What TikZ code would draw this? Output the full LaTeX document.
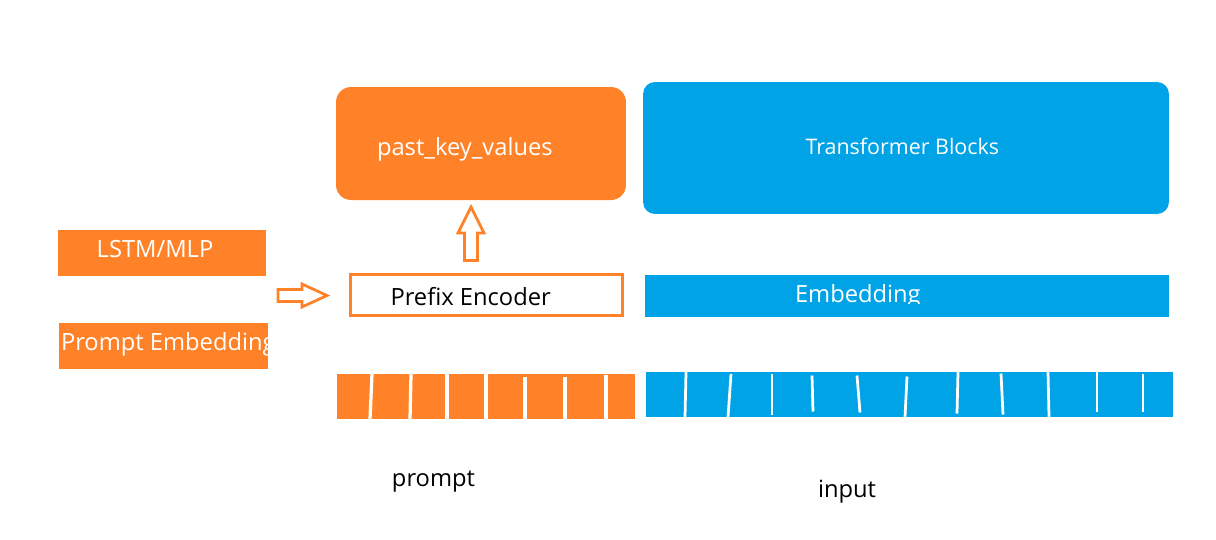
\documentclass[tikz,border=0pt]{standalone}
\usepackage{fontspec}
\setmainfont{Open Sans}
\definecolor{porange}{HTML}{FF8228}
\definecolor{pblue}{HTML}{00A3E6}
\tikzset{
  obox/.style={fill=porange},
  bbox/.style={fill=pblue},
  wtxt/.style={text=white, anchor=base west},
  ktxt/.style={text=black, anchor=base},
  hollow/.style={draw=porange, line width=0.055cm, fill=white},
  gap/.style={draw=white, line width=0.065cm}
}
\begin{document}
\begin{tikzpicture}[x=0.02cm, y=-0.02cm,
    every node/.style={inner sep=0, outer sep=0, font=\fontsize{13.5}{16}\selectfont}]
  \useasboundingbox (0,0) rectangle (1216,539);
  % left column
  \node[obox, minimum width=4.16cm, minimum height=0.92cm] (lstm) at (162,253) {};
  \node[wtxt, anchor=base] (lstmtxt) at (155,257.7) {LSTM/MLP};
  \node[obox, minimum width=4.18cm, minimum height=0.92cm] (pemb) at (163.5,346) {};
  \begin{scope}
    \clip (pemb.north west) rectangle (pemb.south east);
    \node[wtxt] (pembtxt) at (61,350.7) {Prompt Embedding};
  \end{scope}
  % prefix side
  \node[obox, rounded corners=0.3cm, minimum width=5.8cm, minimum height=2.26cm] (pkv) at (481,143.5) {};
  \node[wtxt] (pkvtxt) at (377,155) {past\_key\_values};
  \node[draw=porange, line width=0.056cm, minimum width=5.44cm, minimum height=0.82cm] (enc) at (486.5,295) {};
  \node[ktxt, anchor=base west] (enctxt) at (390.5,305) {Prefix Encoder};
  \node[obox, minimum width=5.96cm, minimum height=0.9cm] (ptok) at (486,396.5) {};
  \foreach \xa/\xb/\ya/\yb in {372/370/374/419, 411/410/374/419, 447/447/374/419,
      486/486/374/419, 525/525/377/419, 565/565/377/419, 606/606/375/419}
    \draw[gap] (\xa,\ya) -- (\xb,\yb);
  \node[ktxt] (ptxt) at (433.5,486.7) {prompt};
  % transformer side
  \node[bbox, rounded corners=0.24cm, minimum width=10.52cm, minimum height=2.64cm] (tblk) at (906,148) {};
  \node[wtxt, font=\fontsize{12.2}{14}\selectfont] (tblktxt) at (805.5,154) {Transformer Blocks};
  \node[bbox, minimum width=10.48cm, minimum height=0.84cm] (emb) at (907,296) {};
  \begin{scope}
    \clip (emb.north west) rectangle ([yshift=0.27cm]emb.south east);
    \node[wtxt] (embtxt) at (795,302) {Embedding};
  \end{scope}
  \node[bbox, minimum width=10.54cm, minimum height=0.9cm] (itok) at (909.5,394.5) {};
  \foreach \xa/\xb/\ya/\yb in {686/685/372/417, 731/728/374/417, 772/772/374/415,
      812/813/375.5/411.5, 857/860/375.5/412.5, 907/905/376.5/417, 958/957/372/413.5,
      1001/1003/373.5/414.5, 1048/1049/372/417, 1097/1097/372/411.5, 1143/1143/373.5/411.5}
    \draw[gap, line width=0.055cm] (\xa,\ya) -- (\xb,\yb);
  \node[ktxt] (itxt) at (847,497.7) {input};
  % hollow arrows
  \coordinate (rarrow) at (278,295.5);
  \draw[hollow] (rarrow) ++(0,-6) -- ++(24,0) -- ++(0,-5.5) -- ++(25,11.5)
    -- ++(-25,11.5) -- ++(0,-5.5) -- ++(-24,0) -- cycle;
  \coordinate (uarrow) at (471,260.5);
  \draw[hollow] (uarrow) ++(-6.5,0) -- ++(0,-27.5) -- ++(-6.5,0) -- ++(13,-26)
    -- ++(13,26) -- ++(-6.5,0) -- ++(0,27.5) -- cycle;
\end{tikzpicture}
\end{document}
